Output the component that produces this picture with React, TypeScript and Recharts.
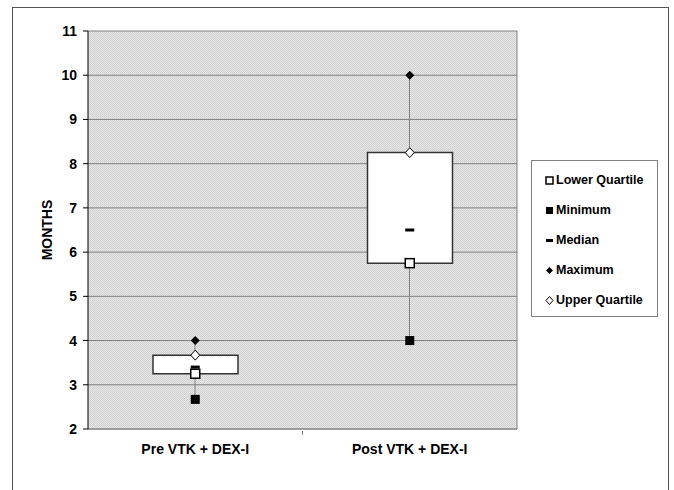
import React from "react";
import {
  ComposedChart,
  Bar,
  Line,
  XAxis,
  YAxis,
  CartesianGrid,
} from "recharts";

const categories = ["Pre VTK + DEX-I", "Post VTK + DEX-I"];
const minimum = [2.67, 4];
const lowerQuartile = [3.25, 5.75];
const median = [3.4, 6.5];
const upperQuartile = [3.67, 8.25];
const maximum = [4, 10];
const yTicks = [2, 3, 4, 5, 6, 7, 8, 9, 10, 11];

const data = categories.map((name, i) => ({
  name,
  min: minimum[i],
  lq: lowerQuartile[i],
  med: median[i],
  uq: upperQuartile[i],
  max: maximum[i],
}));

const FONT = "'Liberation Sans', Arial, sans-serif";

// s = half size of the marker
const markers = {
  lq: (cx, cy, s = 4.5) => (
    <rect x={cx - s} y={cy - s} width={2 * s} height={2 * s} fill="#fff" stroke="#000" strokeWidth={1.5} />
  ),
  min: (cx, cy, s = 4.5) => <rect x={cx - s} y={cy - s} width={2 * s} height={2 * s} fill="#000" />,
  med: (cx, cy, s = 4.5) => <rect x={cx - s} y={cy - 1.5} width={2 * s} height={3} fill="#000" />,
  max: (cx, cy, s = 4.5) => (
    <polygon points={`${cx},${cy - s} ${cx + s},${cy} ${cx},${cy + s} ${cx - s},${cy}`} fill="#000" />
  ),
  uq: (cx, cy, s = 4.5) => (
    <polygon
      points={`${cx},${cy - s - 0.5} ${cx + s},${cy} ${cx},${cy + s + 0.5} ${cx - s},${cy}`}
      fill="#fff"
      stroke="#000"
      strokeWidth={1}
    />
  ),
};

const legendItems = [
  { key: "lq", label: "Lower Quartile" },
  { key: "min", label: "Minimum" },
  { key: "med", label: "Median" },
  { key: "max", label: "Maximum" },
  { key: "uq", label: "Upper Quartile" },
];

const Whisker = (props) => {
  const { x, y, width, height } = props;
  const cx = x + width / 2;
  return <line x1={cx} x2={cx} y1={y} y2={y + height} stroke="#808080" strokeWidth={1} />;
};

const ChartLegend = () => (
  <div
    style={{
      position: "absolute",
      left: 531,
      top: 160,
      width: 127,
      height: 157,
      border: "1px solid #808080",
      background: "#fff",
      boxSizing: "border-box",
      paddingTop: 4,
    }}
  >
    {legendItems.map((it) => (
      <div key={it.key} style={{ height: 30, display: "flex", alignItems: "center", paddingLeft: 13 }}>
        <svg width={9} height={9} style={{ marginRight: 2 }}>
          {markers[it.key](4.5, 4.5, 3.5)}
        </svg>
        <span style={{ fontFamily: FONT, fontWeight: "bold", fontSize: 12.5, color: "#000" }}>
          {it.label}
        </span>
      </div>
    ))}
  </div>
);

const XTick = (props) => {
  const { x, y, payload, index } = props;
  const half = 214.5 / 2;
  return (
    <g>
      {index === 0 && <line x1={x + half} x2={x + half} y1={y} y2={y + 4} stroke="#808080" />}
      <text x={x} y={y + 23} textAnchor="middle" fontFamily={FONT} fontWeight="bold" fontSize={14} fill="#000">
        {payload.value}
      </text>
    </g>
  );
};

export default function App() {
  return (
    <div style={{ position: "absolute", left: 0, top: 0, width: 674, height: 490, overflow: "hidden" }}>
      <svg width={674} height={490} style={{ position: "absolute", left: 0, top: 0 }}>
        <rect x={12.5} y={7.5} width={656} height={520} fill="#fff" stroke="#555" strokeWidth={1} />
        <text
          x={47}
          y={230}
          transform="rotate(-90 47 230)"
          textAnchor="middle"
          dominantBaseline="central"
          fontFamily={FONT}
          fontWeight="bold"
          fontSize={14}
        >
          MONTHS
        </text>
      </svg>
      <div style={{ position: "absolute", left: 0, top: 0 }}>
        <ComposedChart
          width={674}
          height={490}
          data={data}
          margin={{ top: 31, right: 157, left: 0, bottom: 21 }}
        >
          <defs>
            <pattern id="dots" width="2" height="2" patternUnits="userSpaceOnUse">
              <rect width="2" height="2" fill="#e6e6e6" />
              <rect width="1" height="1" fill="#cfcfcf" />
              <rect x="1" y="1" width="1" height="1" fill="#d4d4d4" />
            </pattern>
          </defs>
          <CartesianGrid
            fill="url(#dots)"
            stroke="#808080"
            strokeOpacity={1}
            verticalCoordinatesGenerator={({ offset }) => [offset.left + offset.width]}
          />
          <XAxis
            xAxisId="box"
            dataKey="name"
            height={40}
            axisLine={{ stroke: "#808080" }}
            tickLine={false}
            tickSize={0}
            tick={<XTick />}
          />
          <XAxis xAxisId="whisk" dataKey="name" hide />
          <YAxis
            domain={[2, 11]}
            ticks={yTicks}
            allowDataOverflow
            width={88}
            tickSize={5}
            tickMargin={6}
            axisLine={{ stroke: "#000" }}
            tickLine={{ stroke: "#000" }}
            tick={{ fontFamily: FONT, fontWeight: "bold", fontSize: 14, fill: "#000" }}
          />
          <Bar
            xAxisId="whisk"
            dataKey={(d) => [d.min, d.max]}
            barSize={10}
            shape={<Whisker />}
            isAnimationActive={false}
            legendType="none"
          />
          <Bar
            xAxisId="box"
            dataKey={(d) => [d.lq, d.uq]}
            barSize={85}
            fill="#fff"
            stroke="#333"
            strokeWidth={1.5}
            isAnimationActive={false}
            legendType="none"
          />
          {legendItems.map((it) => (
            <Line
              key={it.key}
              xAxisId="box"
              dataKey={it.key}
              stroke="none"
              isAnimationActive={false}
              activeDot={false}
              legendType="none"
              dot={(p) => <g key={`${it.key}-${p.index}`}>{markers[it.key](p.cx, p.cy)}</g>}
            />
          ))}
        </ComposedChart>
      </div>
      <ChartLegend />
    </div>
  );
}
